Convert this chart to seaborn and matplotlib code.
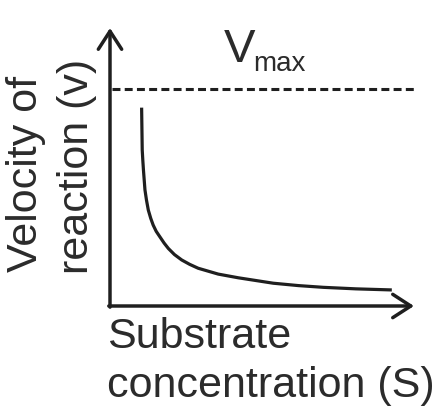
import matplotlib
matplotlib.use("Agg")
import matplotlib.pyplot as plt
import seaborn as sns
import pandas as pd

# Data (arbitrary units, Vmax = 1)
substrate = [1.04, 1.06, 1.08, 1.10, 1.15, 1.20, 1.26, 1.34, 1.42, 1.52,
             1.64, 1.78, 1.92, 2.12, 2.36, 2.62, 2.90, 3.56, 4.22, 5.37,
             6.20, 7.02, 8.09, 9.27]
velocity = [0.914, 0.719, 0.670, 0.627, 0.535, 0.488, 0.442, 0.404, 0.373,
            0.344, 0.319, 0.290, 0.265, 0.237, 0.212, 0.192, 0.174, 0.147,
            0.130, 0.105, 0.094, 0.086, 0.079, 0.074]
vmax = 1.0
x_label = ["Substrate", "concentration (S)"]
y_label = ["Velocity of", "reaction (v)"]

df = pd.DataFrame({"substrate": substrate, "velocity": velocity})

sns.set_theme(style="white")
plt.rcParams["font.family"] = ["Liberation Sans", "DejaVu Sans"]

W, H = 441, 412
fig = plt.figure(figsize=(W / 100, H / 100), dpi=100)
fig.patch.set_facecolor("white")

# axes placed so the origin sits at pixel (110, 306)
ax = fig.add_axes([110 / W, 1 - 306 / H, (414 - 110) / W, (306 - 28) / H])
ax.set_xlim(0, 10)
ax.set_ylim(0, 1.281)
ax.set_facecolor("none")
for s in ax.spines.values():
    s.set_visible(False)

line_col = "#1f1f1f"
text_col = "#2b2b2b"

# curve
sns.lineplot(data=df, x="substrate", y="velocity", ax=ax, color=line_col,
             linewidth=2.3, sort=False, solid_capstyle="butt",
             solid_joinstyle="round")
ax.set_xticks([])
ax.set_yticks([])
ax.set_xlabel("")
ax.set_ylabel("")

# Vmax dashed line
ax.axhline(vmax, xmin=0.005, xmax=1.005, color=line_col, linewidth=2.2,
           linestyle=(0, (2.6, 1.4)), dash_capstyle="butt")

# axis arrows
arrow = dict(arrowstyle="->,head_length=0.65,head_width=0.42", lw=2.5,
             color=line_col, shrinkA=0, shrinkB=0, mutation_scale=20)
ax.annotate("", xy=(0, 1), xytext=(0, -0.004), xycoords="axes fraction",
            arrowprops=arrow, annotation_clip=False)
ax.annotate("", xy=(1, 0), xytext=(-0.004, 0), xycoords="axes fraction",
            arrowprops=arrow, annotation_clip=False)


def fx(px):
    return px / W


def fy(py):
    return 1 - py / H


fs = 31
fig.text(fx(37), fy(173.5), y_label[0], rotation=90, rotation_mode="anchor",
         ha="center", va="baseline", fontsize=fs, color=text_col)
fig.text(fx(88), fy(166), y_label[1], rotation=90, rotation_mode="anchor",
         ha="center", va="baseline", fontsize=fs, color=text_col)
fig.text(fx(107), fy(348), x_label[0], ha="left", va="baseline",
         fontsize=fs, color=text_col)
fig.text(fx(107), fy(397), x_label[1], ha="left", va="baseline",
         fontsize=fs, color=text_col)

fig.text(fx(224), fy(62), "V", ha="left", va="baseline", fontsize=34,
         color=text_col)
fig.text(fx(253), fy(71), "max", ha="left", va="baseline", fontsize=20,
         color=text_col)

fig.savefig("out.png", dpi=100, facecolor="white")
